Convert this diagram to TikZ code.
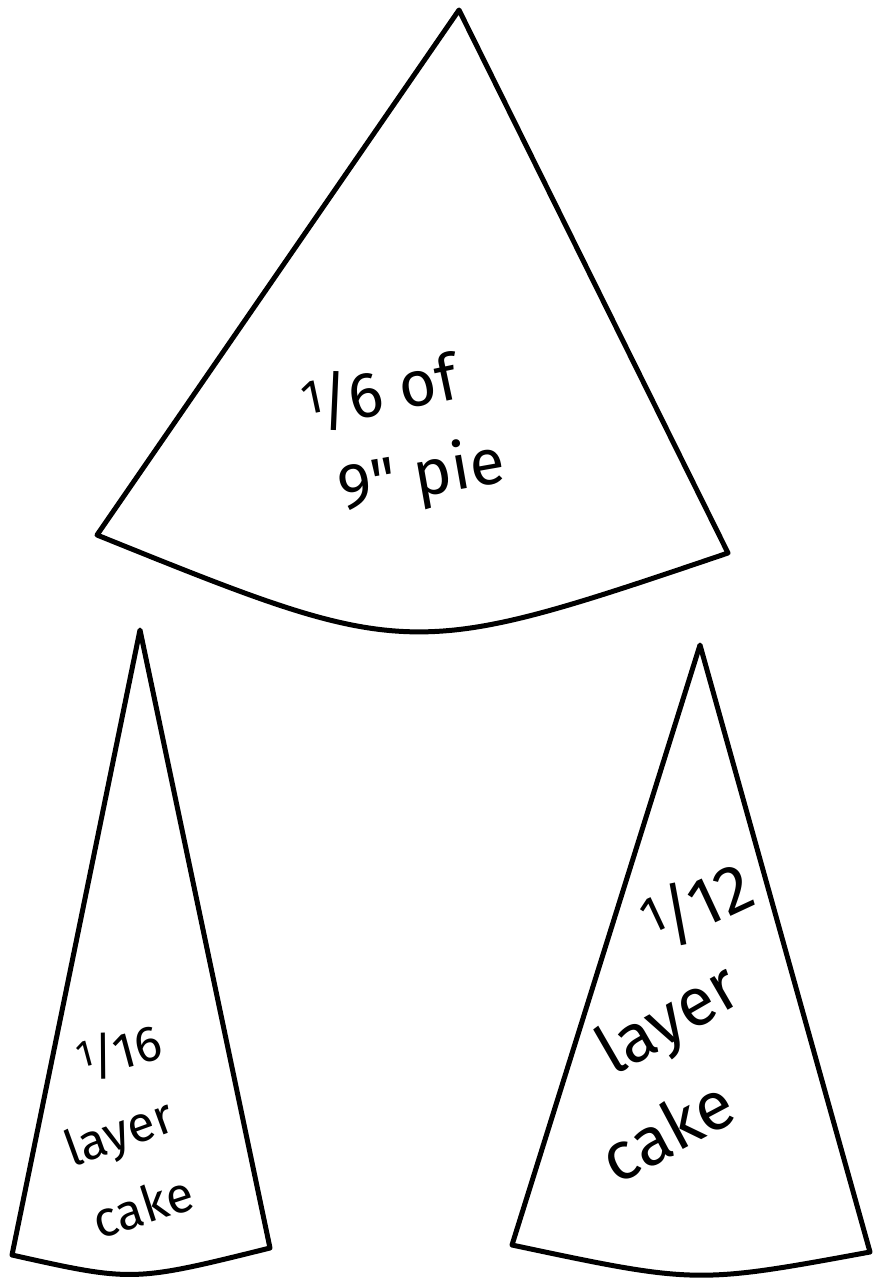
\documentclass[tikz,border=0pt]{standalone}
\usepackage{fontspec}
\setmainfont{Fira Sans}
\usepackage{tikz}
\newcommand{\slice}[2]{\raisebox{.45ex}{\scalebox{.75}{#1}}\kern-.08em/\kern-.04em#2}

\begin{document}
\begin{tikzpicture}[
  x=1pt, y=-1pt,
  wedge/.style={draw, line width=5pt, line join=round, line cap=round},
  label/.style={inner sep=0pt},
]
\useasboundingbox (0,0) rectangle (873,1279);
% pie slice
\coordinate (pietip) at (459,10);
\coordinate (pieleft) at (97,535);
\coordinate (pieright) at (728,553);
\draw[wedge] (pietip) -- (pieleft) .. controls (409,661) .. (pieright) -- cycle;
\node[label, rotate=12, font=\fontsize{64}{70}\selectfont] (pieone) at (380,392) {\slice{1}{6} of};
\node[label, rotate=10, font=\fontsize{64}{70}\selectfont] (pietwo) at (422,478) {9\textquotedbl{} pie};
% small cake slice
\coordinate (smalltip) at (140,630);
\coordinate (smallleft) at (12,1255);
\coordinate (smallright) at (270,1248);
\draw[wedge] (smalltip) -- (smallleft) .. controls (133,1282) .. (smallright) -- cycle;
\node[label, rotate=15, font=\fontsize{50}{56}\selectfont] (smallone) at (120,1052) {\slice{1}{16}};
\node[label, rotate=20, font=\fontsize{50}{56}\selectfont] (smalltwo) at (120,1136) {layer};
\node[label, rotate=18, font=\fontsize{50}{56}\selectfont] (smallthree) at (143,1206) {cake};
% larger cake slice
\coordinate (bigtip) at (700,645);
\coordinate (bigleft) at (512,1245);
\coordinate (bigright) at (870,1252);
\draw[wedge] (bigtip) -- (bigleft) .. controls (696,1284) .. (bigright) -- cycle;
\node[label, rotate=25, font=\fontsize{68}{74}\selectfont] (bigone) at (698,905) {\slice{1}{12}};
\node[label, rotate=30, font=\fontsize{68}{74}\selectfont] (bigtwo) at (670,1023) {layer};
\node[label, rotate=28, font=\fontsize{68}{74}\selectfont] (bigthree) at (667,1130) {cake};
\end{tikzpicture}
\end{document}
